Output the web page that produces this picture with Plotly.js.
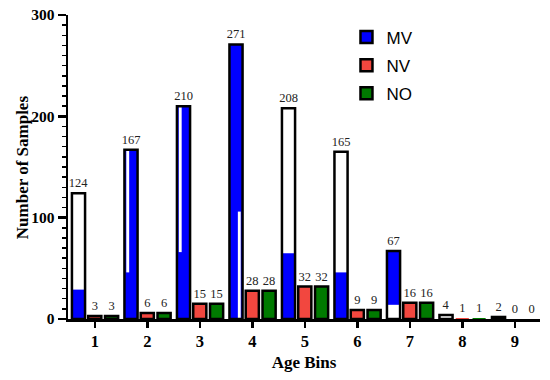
<!DOCTYPE html>
<html><head><meta charset="utf-8">
<script src="https://cdn.plot.ly/plotly-3.0.1.min.js"></script>
<style>html,body{margin:0;padding:0;background:#fff}#chart{width:550px;height:380px}</style>
</head><body><div id="chart"></div>
<script>
const bins = [1,2,3,4,5,6,7,8,9];
const mvTotal = [124,167,210,271,208,165,67,4,2];
const nvValues = [3,6,15,28,32,9,16,1,0];
const noValues = [3,6,15,28,32,9,16,1,0];
// blue filled part of each MV bar (from base to top)
const mvBlueBase = [0,0,0,0,0,0,14,0,0];
const mvBlueTop  = [29,167,210,271,65,46,67,0,0];
// thin white strips inside MV bars
const stripBase = [null,46,66,0,null,null,null,null,null];
const stripTop  = [null,167,210,106,null,null,null,null,null];
const stripSide = [0,-1,-1,1,0,0,0,0,0];

const BW = 0.25, MVOFF = -0.435, NVOFF = -0.125, NOOFF = 0.195;
const blue = '#0000ff', red = '#f2473f', green = '#007a00';
const serif = 'Liberation Serif, Times New Roman, serif';
const lw = v => v > 1 ? 2.5 : 0;
const lblFont = {family:serif, size:12.5, color:'#222222'};

const traces = [];
traces.push({type:'bar', x:bins, base:mvBlueBase,
  y:mvBlueTop.map((t,i)=>t-mvBlueBase[i]),
  width:BW, offset:MVOFF, marker:{color:blue, line:{width:0}},
  showlegend:false, hoverinfo:'skip'});
traces.push({type:'bar', x:bins, base:stripBase.map(v=>v===null?0:v),
  y:stripTop.map((t,i)=>t===null?0:t-stripBase[i]),
  width:0.055, offset:stripSide.map(s=> s<0 ? MVOFF+0.035 : MVOFF+BW-0.035-0.055),
  marker:{color:'#ffffff', line:{width:0}}, showlegend:false, hoverinfo:'skip'});
traces.push({type:'bar', x:bins, y:mvTotal, width:BW, offset:MVOFF,
  marker:{color:'rgba(0,0,0,0)', line:{color:'#000', width:mvTotal.map(lw)}},
  text:mvTotal.map(String), textposition:'outside', cliponaxis:false, constraintext:'none',
  textfont:lblFont, outsidetextfont:lblFont, showlegend:false});
traces.push({type:'bar', x:bins, y:nvValues, width:BW, offset:NVOFF, name:'NV',
  marker:{color:red, line:{color:'#000', width:nvValues.map(lw)}},
  text:nvValues.map(String), textposition:'outside', cliponaxis:false, constraintext:'none',
  textfont:lblFont, outsidetextfont:lblFont, legendrank:2, legendgroup:'b'});
traces.push({type:'bar', x:bins, y:noValues, width:BW, offset:NOOFF, name:'NO',
  marker:{color:green, line:{color:'#000', width:noValues.map(lw)}},
  text:noValues.map(String), textposition:'outside', cliponaxis:false, constraintext:'none',
  textfont:lblFont, outsidetextfont:lblFont, legendrank:3, legendgroup:'c'});
traces.push({type:'bar', x:[null], y:[null], name:'MV', legendgroup:'a',
  marker:{color:blue, line:{color:'#000', width:2.5}}, legendrank:1});

const layout = {
  width:550, height:380,
  margin:{l:68, r:10, t:15, b:61},
  paper_bgcolor:'#fff', plot_bgcolor:'#fff',
  barmode:'overlay',
  showlegend:true,
  legend:{x:0.59, y:0.985, xanchor:'left', yanchor:'top',
    font:{family:'Liberation Sans, Arial, sans-serif', size:17, color:'#000'},
    bgcolor:'rgba(0,0,0,0)', itemwidth:30, tracegroupgap:3},
  xaxis:{range:[0.49,9.48], tickvals:bins, ticktext:bins.map(String),
    showline:true, linecolor:'#000', linewidth:2.5, ticks:'outside',
    ticklen:6, tickwidth:2.5, tickcolor:'#000', showgrid:false, zeroline:false,
    tickfont:{family:serif, size:16.5, color:'#000', weight:'bold'},
    title:{text:'<b>Age Bins</b>', font:{family:serif, size:17, color:'#000'}, standoff:6}},
  yaxis:{range:[0,300], tickvals:[0,100,200,300],
    showline:true, linecolor:'#000', linewidth:2.5, ticks:'outside',
    ticklen:8, tickwidth:2.5, tickcolor:'#000', showgrid:false, zeroline:false,
    minor:{dtick:10, ticks:'outside', ticklen:4, tickwidth:1.5, tickcolor:'#000', showgrid:false},
    tickfont:{family:serif, size:15.5, color:'#000', weight:'bold'}},
  annotations:[{text:'<b>Number of Samples</b>', xref:'paper', yref:'paper',
    x:-0.097, y:0.5, xanchor:'center', yanchor:'middle', textangle:-90, showarrow:false,
    font:{family:serif, size:17, color:'#000'}}]
};
Plotly.newPlot('chart', traces, layout, {displayModeBar:false, staticPlot:true});
</script></body></html>
